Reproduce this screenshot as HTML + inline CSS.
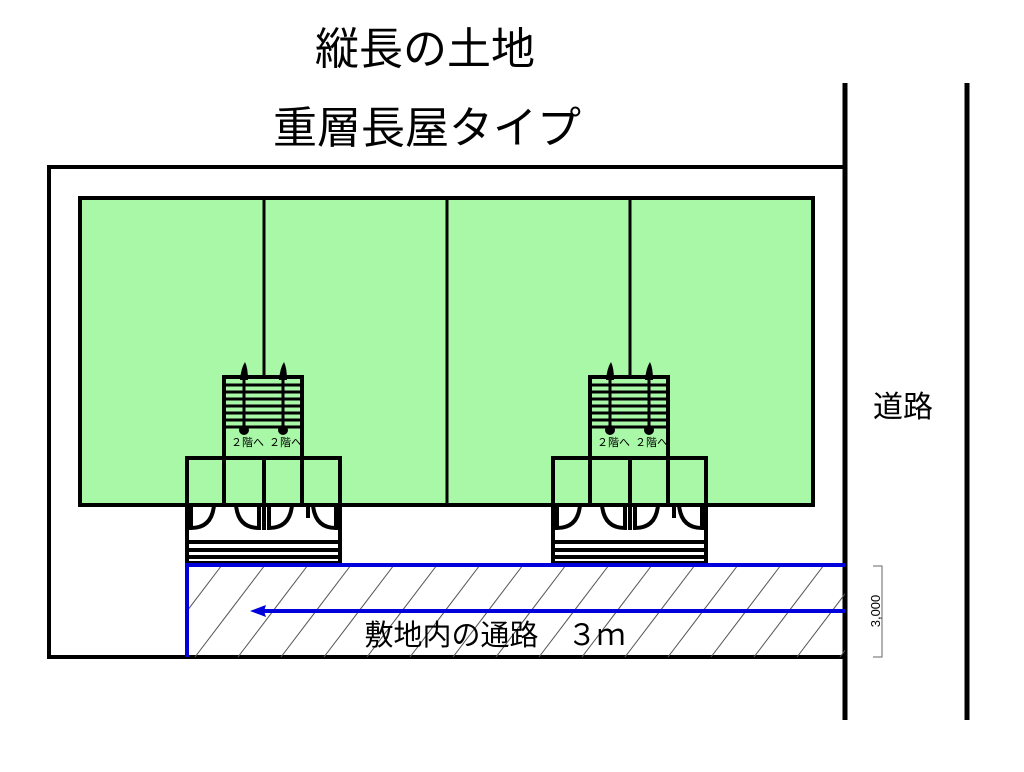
<!DOCTYPE html>
<html><head><meta charset="utf-8"><style>
body{margin:0;background:#fff;}
svg{display:block;font-family:"Liberation Sans","Noto Sans CJK JP",sans-serif;}
</style></head><body>
<svg width="1024" height="772" viewBox="0 0 1024 772" xmlns="http://www.w3.org/2000/svg">
<defs>
<pattern id="h" width="43" height="92" patternUnits="userSpaceOnUse" x="187" y="565">
<line x1="-35" y1="92" x2="35" y2="0" stroke="#555" stroke-width="1"/>
<line x1="8" y1="92" x2="78" y2="0" stroke="#555" stroke-width="1"/>
</pattern>
<g id="unit">
<rect x="224" y="377" width="78" height="81" fill="#a8f8a8" stroke="#000" stroke-width="4"/>
<g stroke="#000" stroke-width="3">
<line x1="224" y1="385" x2="302" y2="385"/><line x1="224" y1="392" x2="302" y2="392"/>
<line x1="224" y1="399" x2="302" y2="399"/><line x1="224" y1="406" x2="302" y2="406"/>
<line x1="224" y1="413" x2="302" y2="413"/><line x1="224" y1="420" x2="302" y2="420"/>
<line x1="224" y1="427" x2="302" y2="427"/>
</g>
<path d="M244 430 V372 M283 430 V372" stroke="#000" stroke-width="3"/>
<path d="M240 380 Q241 368 245 362 Q248 368 248 380 Z M279 380 Q280 368 284 362 Q287 368 287 380 Z" fill="#000"/>
<circle cx="244" cy="430" r="5" fill="#000"/><circle cx="283" cy="430" r="5" fill="#000"/>
<text x="231" y="446" font-size="11">２階へ</text><text x="269" y="446" font-size="11">２階へ</text>
<rect x="187" y="458" width="153" height="47" fill="#a8f8a8" stroke="#000" stroke-width="4"/>
<rect x="187" y="505" width="153" height="58" fill="#fff" stroke="#000" stroke-width="4"/>
<g stroke="#000" stroke-width="4" fill="none">
<line x1="224" y1="458" x2="224" y2="505"/><line x1="264" y1="458" x2="264" y2="530"/>
<line x1="302" y1="458" x2="302" y2="505"/>
<path d="M191 505 V528 Q212 528 214 505"/>
<path d="M259 505 V528 Q238 528 236 505"/>
<path d="M269 505 V528 Q290 528 292 505"/>
<path d="M336 505 V528 Q315 528 313 505"/>
<line x1="308" y1="505" x2="308" y2="518"/>
<line x1="187" y1="542" x2="340" y2="542"/><line x1="187" y1="550" x2="340" y2="550"/>
<line x1="187" y1="557" x2="340" y2="557"/>
</g>
</g>
</defs>
<text x="425" y="64" font-size="44" text-anchor="middle">縦長の土地</text>
<text x="427" y="143" font-size="44" text-anchor="middle">重層長屋タイプ</text>
<rect x="49" y="167" width="796" height="490" fill="#fff" stroke="#000" stroke-width="4"/>
<line x1="845" y1="83" x2="845" y2="720" stroke="#000" stroke-width="5"/>
<line x1="967" y1="83" x2="967" y2="720" stroke="#000" stroke-width="5"/>
<rect x="80" y="198" width="733" height="307" fill="#a8f8a8" stroke="#000" stroke-width="4"/>
<g stroke="#000" stroke-width="3"><line x1="264" y1="198" x2="264" y2="505"/><line x1="447" y1="198" x2="447" y2="505"/><line x1="630" y1="198" x2="630" y2="505"/></g>
<use href="#unit"/>
<use href="#unit" transform="translate(366,0)"/>
<rect x="187" y="565" width="658" height="92" fill="url(#h)"/>
<path d="M845 565 H187 V657" stroke="#0000dd" stroke-width="4" fill="none"/>
<line x1="845" y1="611" x2="262" y2="611" stroke="#0000dd" stroke-width="4"/>
<path d="M250 611 L266 605 L264 611 L266 617 Z" fill="#0000dd"/>
<text x="495" y="645" font-size="29" text-anchor="middle">敷地内の通路　３ｍ</text>
<text x="903" y="417" font-size="30" text-anchor="middle">道路</text>
<path d="M873 566 H882 V657 H873" stroke="#666" stroke-width="1" fill="none"/>
<text transform="translate(880,611) rotate(-90)" font-size="13" text-anchor="middle">3,000</text>
</svg>
</body></html>
